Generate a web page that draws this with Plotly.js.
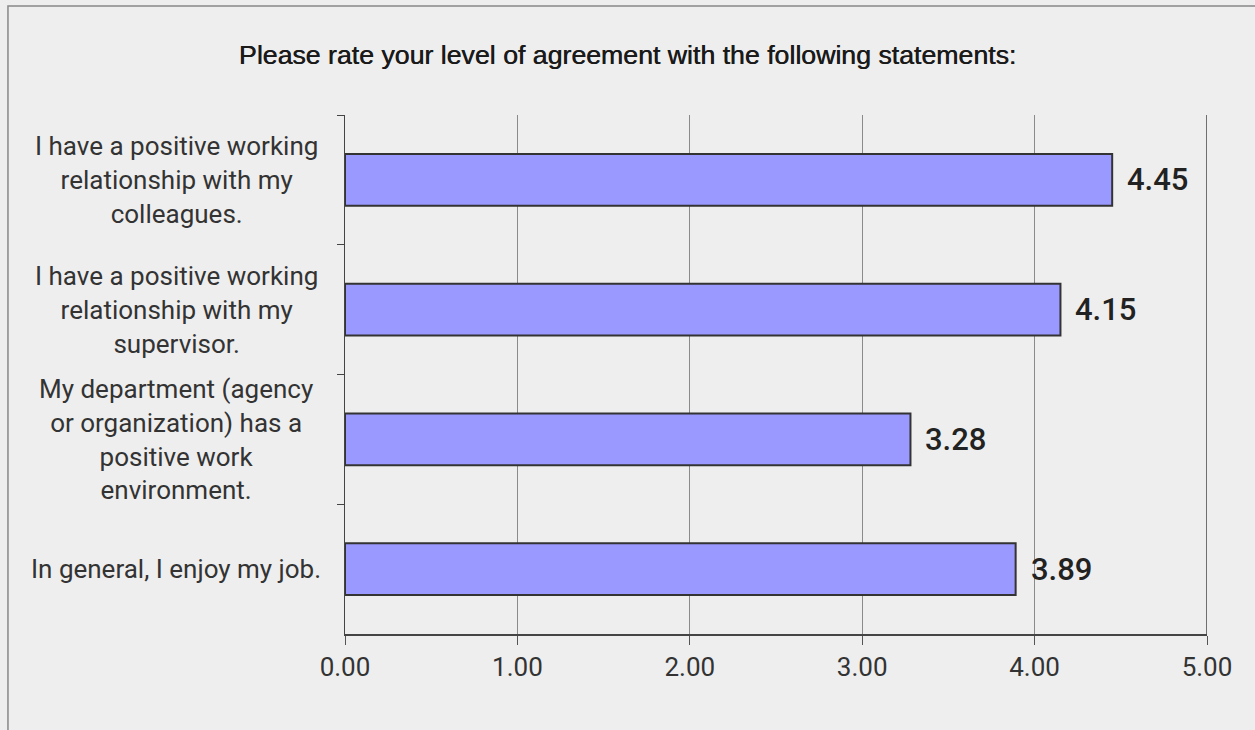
<!DOCTYPE html>
<html>
<head>
<meta charset="utf-8">
<script src="https://cdn.plot.ly/plotly-3.0.1.min.js"></script>
<style>html,body{margin:0;padding:0;background:#eeeeee;}#chart{width:1255px;height:730px;}</style>
</head>
<body>
<div id="chart"></div>
<script>
const categories = [
  "I have a positive working<br>relationship with my<br>colleagues.",
  "I have a positive working<br>relationship with my<br>supervisor.",
  "My department (agency<br>or organization) has a<br>positive work<br>environment.",
  "In general, I enjoy my job."
];
const values = [4.45, 4.15, 3.28, 3.89];
const valueLabels = ["4.45", "4.15", "3.28", "3.89"];
const xTickVals = [0, 1, 2, 3, 4, 5];
const xTickText = ["0.00", "1.00", "2.00", "3.00", "4.00", "5.00"];
const titleText = "Please rate your level of agreement with the following statements:";

const ids = categories.map((c, i) => "c" + i);

const trace = {
  type: "bar",
  orientation: "h",
  x: values,
  y: ids,
  width: 0.4,
  marker: {color: "#9999ff", line: {color: "#333333", width: 2}},
  hoverinfo: "skip"
};

const annotations = [];
categories.forEach((c, i) => {
  annotations.push({
    xref: "paper", yref: "y", x: -0.196, y: ids[i],
    text: c, showarrow: false, xanchor: "center", yanchor: "middle", align: "center",
    font: {family: "Roboto, sans-serif", size: 26, color: "#333333"}
  });
  annotations.push({
    xref: "x", yref: "y", x: values[i], y: ids[i],
    text: valueLabels[i], showarrow: false, xanchor: "left", yanchor: "middle",
    xshift: 13,
    font: {family: "Roboto, sans-serif", size: 31, color: "#222222", weight: 500}
  });
});

const layout = {
  width: 1255, height: 730,
  margin: {l: 345, r: 48, t: 115, b: 96, pad: 0},
  paper_bgcolor: "#eeeeee",
  plot_bgcolor: "#eeeeee",
  showlegend: false,
  title: {
    text: titleText,
    font: {family: "Liberation Sans, Arial, sans-serif", size: 26.7, color: "#1a1a1a", weight: "normal",
           shadow: "0.5px 0px 0px #1a1a1a"},
    xref: "container", x: 0.5, xanchor: "center",
    yref: "container", y: 1 - 55 / 730, yanchor: "middle"
  },
  xaxis: {
    range: [0, 5],
    tickvals: xTickVals, ticktext: xTickText,
    showgrid: true, gridcolor: "#8a8a8a", gridwidth: 1,
    zeroline: false,
    showline: true, linecolor: "#444444", linewidth: 1.5,
    ticks: "outside", ticklen: 9, tickcolor: "#555555", tickwidth: 1,
    tickfont: {family: "Roboto, sans-serif", size: 26, color: "#333333"},
    fixedrange: true
  },
  yaxis: {
    type: "category",
    categoryorder: "array", categoryarray: ids,
    autorange: "reversed",
    showgrid: false, zeroline: false,
    showline: true, linecolor: "#444444", linewidth: 1.5,
    ticks: "outside", tickson: "boundaries", ticklen: 7, tickcolor: "#444444",
    showticklabels: false,
    fixedrange: true
  },
  shapes: [
    {type: "line", xref: "x", yref: "paper", x0: 5, x1: 5, y0: 0, y1: 1,
     line: {color: "#444444", width: 1.5}},
    {type: "rect", xref: "paper", yref: "paper", x0: -0.391, x1: 1.2, y0: -0.4, y1: 1.2100,
     line: {color: "#888888", width: 1.5}, fillcolor: "rgba(0,0,0,0)", layer: "below"}
  ],
  annotations: annotations
};

Plotly.newPlot("chart", [trace], layout, {displayModeBar: false, staticPlot: true});
</script>
</body>
</html>
